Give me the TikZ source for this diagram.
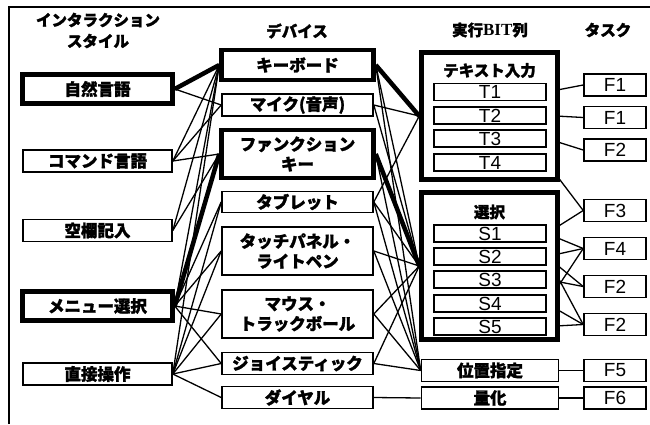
\documentclass[tikz,border=0pt]{standalone}
\usepackage{fontspec}
\setmainfont{Liberation Sans}
\newfontfamily\jp{Noto Sans CJK JP}[BoldFeatures={FakeBold=1.6}]
\newfontfamily\tms{Liberation Serif}
\pgfdeclarelayer{bg}
\pgfsetlayers{bg,main}
\begin{document}
\begin{tikzpicture}[x=1pt,y=-1pt,
  jpf/.style={font=\jp\bfseries\fontsize{16.5}{20}\selectfont},
  hjpf/.style={font=\jp\bfseries\fontsize{15.5}{19}\selectfont},
  thinbox/.style={draw, line width=1.6pt, fill=white, inner sep=0pt, jpf, align=center},
  thickbox/.style={draw, line width=4.5pt, fill=white, inner sep=0pt, jpf, align=center},
  latbox/.style={draw, line width=1.6pt, fill=white, inner sep=0pt, font=\fontsize{19}{20}\selectfont},
  hdr/.style={hjpf, inner sep=0pt, align=center},
  cn/.style={line width=1.3pt},
  thk/.style={line width=4.5pt}]
\useasboundingbox (0,0) rectangle (650,424);
\draw[line width=2pt] (9,424) -- (9,7) -- (650,7);

% headers
\node[hdr] (h1) at (98,20) {インタラクション};
\node[hdr] (h1b) at (98,41) {スタイル};
\node[hdr] (h2) at (297,31) {デバイス};
\node[hdr] (h3) at (490,30) {実行{\tms\bfseries\fontsize{17}{18}\selectfont BIT}列};
\node[hdr] (h4) at (608,30) {タスク};

% left column
\node[thickbox, minimum width=150, minimum height=29] (nl) at (97.5,89) {自然言語};
\node[thinbox, minimum width=149, minimum height=22] (cmd) at (97.5,161) {コマンド言語};
\node[thinbox, minimum width=149, minimum height=22] (form) at (97.5,230.5) {空欄記入};
\node[thickbox, minimum width=150, minimum height=29] (menu) at (97.5,306) {メニュー選択};
\node[thinbox, minimum width=149, minimum height=22] (dm) at (97.5,374) {直接操作};

% device column
\node[thickbox, minimum width=152, minimum height=30] (kb) at (297.5,65) {キーボード};
\node[thinbox, minimum width=151, minimum height=22] (mic) at (297.5,105) {マイク(音声)};
\node[thickbox, minimum width=152, minimum height=48] (fk) at (297.5,154) {ファンクション\\キー};
\node[thinbox, minimum width=151, minimum height=21] (tab) at (297.5,202) {タブレット};
\node[thinbox, minimum width=151, minimum height=48] (touch) at (297.5,251) {タッチパネル・\\ライトペン};
\node[thinbox, minimum width=151, minimum height=48] (mouse) at (297.5,314) {マウス・\\トラックボール};
\node[thinbox, minimum width=151, minimum height=22] (joy) at (297.5,363.5) {ジョイスティック};
\node[thinbox, minimum width=151, minimum height=22] (dial) at (297.5,397.5) {ダイヤル};

% BIT column
\node[thickbox, minimum width=136, minimum height=127] (gtext) at (489.5,116) {};
\node[hdr] (ttext) at (489.5,70.5) {テキスト入力};
\node[latbox, minimum width=112, minimum height=17] (t1) at (490,92) {T1};
\node[latbox, minimum width=112, minimum height=17] (t2) at (490,115.5) {T2};
\node[latbox, minimum width=112, minimum height=17] (t3) at (490,138.5) {T3};
\node[latbox, minimum width=112, minimum height=17] (t4) at (490,162.5) {T4};

\node[thickbox, minimum width=136, minimum height=147] (gsel) at (489.5,266) {};
\node[hdr] (tsel) at (489.5,212) {選択};
\node[latbox, minimum width=112, minimum height=17] (s1) at (490,233.5) {S1};
\node[latbox, minimum width=112, minimum height=17] (s2) at (490,256.5) {S2};
\node[latbox, minimum width=112, minimum height=17] (s3) at (490,279.5) {S3};
\node[latbox, minimum width=112, minimum height=17] (s4) at (490,303.5) {S4};
\node[latbox, minimum width=112, minimum height=17] (s5) at (490,326.5) {S5};

\node[thinbox, minimum width=137, minimum height=22] (pos) at (490,370.5) {位置指定};
\node[thinbox, minimum width=137, minimum height=22] (quant) at (490,398) {量化};

% task column
\node[latbox, minimum width=62, minimum height=22] (f1a) at (615,85) {F1};
\node[latbox, minimum width=62, minimum height=22] (f1b) at (615,117.5) {F1};
\node[latbox, minimum width=62, minimum height=22] (f2a) at (615,150) {F2};
\node[latbox, minimum width=62, minimum height=22] (f3) at (615,210.5) {F3};
\node[latbox, minimum width=62, minimum height=22] (f4) at (615,248.5) {F4};
\node[latbox, minimum width=62, minimum height=22] (f2b) at (615,286.5) {F2};
\node[latbox, minimum width=62, minimum height=22] (f2c) at (615,324.5) {F2};
\node[latbox, minimum width=62, minimum height=22] (f5) at (615,370.5) {F5};
\node[latbox, minimum width=62, minimum height=22] (f6) at (615,398) {F6};

\begin{pgfonlayer}{bg}
% style -> device
\draw[thk] (nl.east) -- (kb.west);
\draw[cn] (nl.east) -- (mic.west);
\draw[cn] (cmd.east) -- (kb.west);
\draw[cn] (cmd.east) -- (mic.west);
\draw[cn] (cmd.east) -- (fk.west);
\draw[cn] (form.east) -- (kb.west);
\draw[cn] (form.east) -- (fk.west);
\draw[thk] (menu.east) -- (fk.west);
\draw[cn] (menu.east) -- (kb.west);
\draw[cn] (menu.east) -- (tab.west);
\draw[cn] (menu.east) -- (touch.west);
\draw[cn] (menu.east) -- (mouse.west);
\draw[cn] (menu.east) -- (joy.west);
\draw[cn] (dm.east) -- (kb.west);
\draw[cn] (dm.east) -- (tab.west);
\draw[cn] (dm.east) -- (touch.west);
\draw[cn] (dm.east) -- (mouse.west);
\draw[cn] (dm.east) -- (joy.west);
\draw[cn] (dm.east) -- (dial.west);
% device -> BIT
\draw[thk] (kb.east) -- (gtext.west);
\draw[cn] (kb.east) -- (gsel.west);
\draw[cn] (kb.east) -- (pos.west);
\draw[cn] (mic.east) -- (gtext.west);
\draw[cn] (mic.east) -- (gsel.west);
\draw[thk] (fk.east) -- (gsel.west);
\draw[cn] (fk.east) -- (pos.west);
\draw[cn] (tab.east) -- (gtext.west);
\draw[cn] (tab.east) -- (gsel.west);
\draw[cn] (tab.east) -- (pos.west);
\draw[cn] (touch.east) -- (gsel.west);
\draw[cn] (touch.east) -- (pos.west);
\draw[cn] (mouse.east) -- (gsel.west);
\draw[cn] (mouse.east) -- (pos.west);
\draw[cn] (joy.east) -- (gsel.west);
\draw[cn] (joy.east) -- (pos.west);
\draw[cn] (dial.east) -- (quant.west);
% BIT -> task
\draw[cn] (t1.east) -- (f1a.west);
\draw[cn] (t2.east) -- (f1b.west);
\draw[cn] (t3.east) -- (f2a.west);
\draw[cn] (t4.east) -- (f3.west);
\draw[cn] (s1.east) -- (f3.west);
\draw[cn] (s1.east) -- (f4.west);
\draw[cn] (s2.east) -- (f4.west);
\draw[cn] (s2.east) -- (f2b.west);
\draw[cn] (s2.east) -- (f2c.west);
\draw[cn] (s3.east) -- (f2b.west);
\draw[cn] (s4.east) -- (f4.west);
\draw[cn] (s4.east) -- (f2c.west);
\draw[cn] (s5.east) -- (f2c.west);
\draw[cn] (pos.east) -- (f5.west);
\draw[cn] (quant.east) -- (f6.west);
\end{pgfonlayer}
\end{tikzpicture}
\end{document}
